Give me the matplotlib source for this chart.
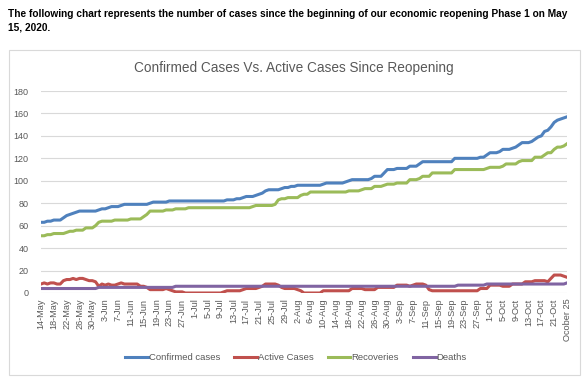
#!/usr/bin/env python3
# Confirmed vs active cases since reopening (line chart, Excel style).

import matplotlib
matplotlib.use("Agg")
import matplotlib.pyplot as plt
from matplotlib.patches import Rectangle

# daily values, 14-May .. 25-Oct
confirmed = [
    # May
    63, 63, 64, 64, 65, 65, 65, 67, 69, 70, 71, 72, 73, 73, 73, 73, 73, 73,
    # Jun
    74, 75, 75, 76, 77, 77, 77, 78, 79, 79, 79, 79, 79, 79, 79, 79, 80, 81,
    81, 81, 81, 81, 82, 82, 82, 82, 82, 82, 82, 82,
    # Jul
    82, 82, 82, 82, 82, 82, 82, 82, 82, 82, 83, 83, 83, 84, 84, 85, 86, 86,
    86, 87, 88, 89, 91, 92, 92, 92, 92, 93, 94, 94, 95,
    # Aug
    95, 96, 96, 96, 96, 96, 96, 96, 96, 97, 98, 98, 98, 98, 98, 98, 99, 100,
    101, 101, 101, 101, 101, 101, 102, 104, 104, 104, 107, 110, 110,
    # Sep
    110, 111, 111, 111, 111, 113, 113, 113, 115, 117, 117, 117, 117, 117,
    117, 117, 117, 117, 117, 120, 120, 120, 120, 120, 120, 120, 120, 121,
    121, 123,
    # Oct
    125, 125, 125, 126, 128, 128, 128, 129, 130, 132, 134, 134, 134, 135,
    137, 139, 140, 144, 145, 148, 152, 154, 155, 156, 157,
]

active = [
    8, 9, 8, 9, 9, 8, 8, 11, 12, 12, 13, 12, 13, 13, 12, 11, 11, 10,
    6, 8, 7, 8, 7, 7, 8, 9, 8, 8, 8, 8, 8, 6, 6, 5, 3, 3, 3, 3, 3, 4,
    3, 2, 1, 1, 1, 0, 0, 0,
    0, 0, 0, 0, 0, 0, 0, 0, 0, 1, 2, 2, 2, 2, 2, 3, 4, 4, 4, 4, 5, 6,
    8, 8, 8, 8, 7, 5, 4, 4, 4,
    4, 3, 2, 0, 0, 0, 0, 0, 0, 2, 2, 2, 2, 2, 2, 2, 2, 2, 4, 4, 4, 4,
    3, 3, 3, 3, 5, 5, 5, 5, 5,
    5, 7, 7, 7, 7, 6, 7, 8, 8, 8, 7, 3, 2, 2, 2, 2, 2, 2, 2, 2, 2, 2,
    2, 2, 2, 2, 2, 4, 4, 4,
    7, 7, 7, 7, 6, 6, 6, 8, 8, 8, 8, 10, 10, 10, 11, 11, 11, 11, 10, 13,
    16, 16, 16, 15, 14,
]

recoveries = [
    51, 51, 52, 52, 53, 53, 53, 53, 54, 55, 55, 56, 56, 56, 58, 58, 58, 60,
    63, 64, 64, 64, 64, 65, 65, 65, 65, 65, 66, 66, 66, 66, 68, 70, 73, 73,
    73, 73, 73, 74, 74, 74, 75, 75, 75, 75, 76, 76,
    76, 76, 76, 76, 76, 76, 76, 76, 76, 76, 76, 76, 76, 76, 76, 76, 76, 76,
    77, 78, 78, 78, 78, 78, 78, 79, 83, 84, 84, 85, 85,
    85, 85, 87, 88, 88, 90, 90, 90, 90, 90, 90, 90, 90, 90, 90, 90, 90, 91,
    91, 91, 91, 92, 93, 93, 93, 95, 95, 95, 96, 97, 97,
    97, 98, 98, 98, 98, 101, 101, 101, 102, 104, 104, 104, 107, 107, 107,
    107, 107, 107, 107, 110, 110, 110, 110, 110, 110, 110, 110, 110, 110, 111,
    112, 112, 112, 112, 113, 115, 115, 115, 115, 117, 118, 118, 118, 118,
    121, 121, 121, 123, 125, 125, 128, 130, 130, 131, 133,
]

deaths = [
    4, 4, 4, 4, 4, 4, 4, 4, 4, 4, 4, 4, 4, 4, 4, 4, 4, 4,
    5, 5, 5, 5, 5, 5, 5, 5, 5, 5, 5, 5, 5, 5, 5, 5, 5, 5, 5, 5, 5, 5,
    5, 5, 6, 6, 6, 6, 6, 6,
    6, 6, 6, 6, 6, 6, 6, 6, 6, 6, 6, 6, 6, 6, 6, 6, 6, 6, 6, 6, 6, 6,
    6, 6, 6, 6, 6, 6, 6, 6, 6,
    6, 6, 6, 6, 6, 6, 6, 6, 6, 6, 6, 6, 6, 6, 6, 6, 6, 6, 6, 6, 6, 6,
    6, 6, 6, 6, 6, 6, 6, 6, 6,
    6, 6, 6, 6, 6, 6, 6, 6, 6, 6, 6, 6, 6, 6, 6, 6, 6, 6, 6, 6, 7, 7,
    7, 7, 7, 7, 7, 7, 7, 8,
    8, 8, 8, 8, 8, 8, 8, 8, 8, 8, 8, 8, 8, 8, 8, 8, 8, 8, 8, 8, 8, 8,
    8, 8, 9,
]

tick_labels = [
    "14-May", "18-May", "22-May", "26-May", "30-May", "3-Jun", "7-Jun",
    "11-Jun", "15-Jun", "19-Jun", "23-Jun", "27-Jun", "1-Jul", "5-Jul",
    "9-Jul", "13-Jul", "17-Jul", "21-Jul", "25-Jul", "29-Jul", "2-Aug",
    "6-Aug", "10-Aug", "14-Aug", "18-Aug", "22-Aug", "26-Aug", "30-Aug",
    "3-Sep", "7-Sep", "11-Sep", "15-Sep", "19-Sep", "23-Sep", "27-Sep",
    "1-Oct", "5-Oct", "9-Oct", "13-Oct", "17-Oct", "21-Oct", "Ocober 25",
]

plt.rcParams["font.family"] = ["Liberation Sans", "DejaVu Sans"]
grey = "#595959"

W, H = 584, 383
fig = plt.figure(figsize=(W / 100, H / 100), dpi=100)
fig.patch.set_facecolor("white")

# intro text above the chart
fig.text(8 / W, 1 - 17 / H,
         "The following chart represents the number of cases since the beginning "
         "of our economic reopening Phase 1 on May",
         fontsize=7.3, fontweight="bold", ha="left", va="baseline")
fig.text(8 / W, 1 - 30 / H, "15, 2020.",
         fontsize=7.3, fontweight="bold", ha="left", va="baseline")

# chart frame
fig.patches.append(Rectangle((9 / W, 1 - 375 / H), 571 / W, 325 / H,
                             transform=fig.transFigure, fill=False,
                             edgecolor="#d9d9d9", linewidth=0.8))

fig.text(294 / W, 1 - 72 / H, "Confirmed Cases Vs. Active Cases Since Reopening",
         fontsize=9.8, color=grey, ha="center", va="baseline")

ax = fig.add_axes([41 / W, 1 - 293 / H, 526 / W, 202 / H])
x = list(range(len(confirmed)))
ax.plot(x, confirmed, color="#4F81BD", lw=2.2, label="Confirmed cases")
ax.plot(x, active, color="#C0504D", lw=2.2, label="Active Cases")
ax.plot(x, recoveries, color="#9BBB59", lw=2.2, label="Recoveries")
ax.plot(x, deaths, color="#8064A2", lw=2.2, label="Deaths")

ax.set_xlim(0, len(confirmed) - 1)
ax.set_ylim(0, 180)
ax.set_yticks(range(0, 181, 20))
ax.set_xticks(x[::4])
ax.set_xticklabels(tick_labels, rotation=90, fontsize=6.6, color=grey)
ax.tick_params(axis="y", labelsize=6.5, labelcolor=grey, length=0, pad=9)
ax.tick_params(axis="x", length=0, pad=4)
ax.grid(axis="y", color="#d9d9d9", linewidth=0.8)
ax.set_axisbelow(True)
for s in ax.spines.values():
    s.set_visible(False)

fig.legend(loc="center", bbox_to_anchor=(296 / W, 1 - 358 / H), ncol=4,
           frameon=False, fontsize=6.8, labelcolor=grey, handlelength=2.4,
           handletextpad=0.1, columnspacing=1.5)

fig.savefig("out.png", dpi=100)
